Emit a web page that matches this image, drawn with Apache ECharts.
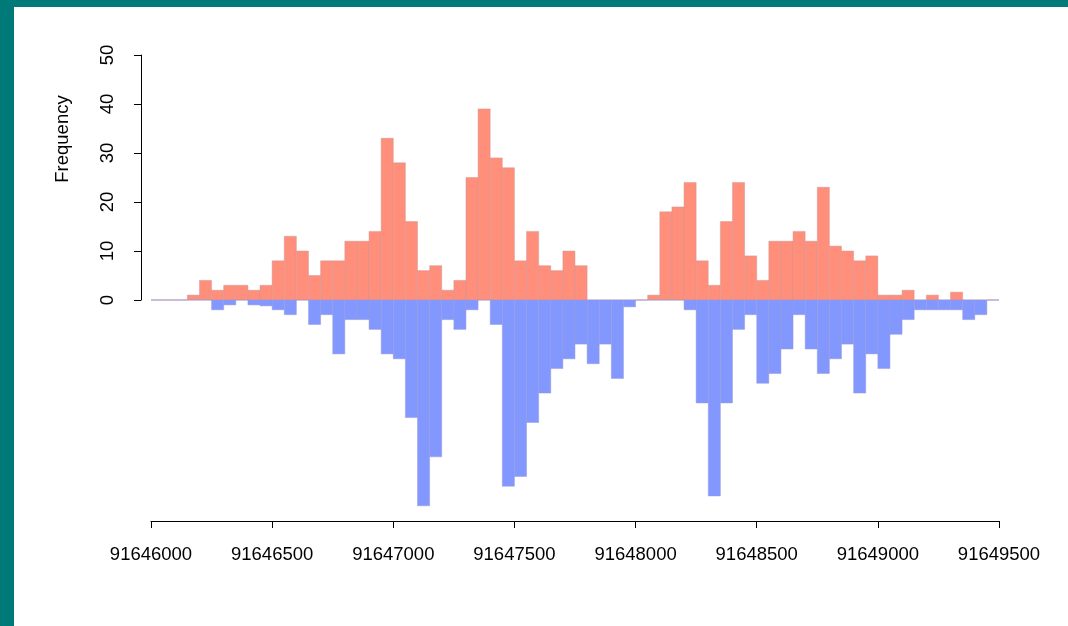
<!DOCTYPE html>
<html>
<head>
<meta charset="utf-8">
<script src="https://cdn.jsdelivr.net/npm/echarts@6/dist/echarts.min.js"></script>
<style>
  html, body { margin: 0; padding: 0; background: #ffffff; }
  #chart { width: 1068px; height: 626px; }
</style>
</head>
<body>
<div id="chart"></div>
<script>
// Left edge of each 50 bp bin
const binStart = [
  91646000, 91646050, 91646100, 91646150, 91646200, 91646250, 91646300, 91646350, 91646400, 91646450,
  91646500, 91646550, 91646600, 91646650, 91646700, 91646750, 91646800, 91646850, 91646900, 91646950,
  91647000, 91647050, 91647100, 91647150, 91647200, 91647250, 91647300, 91647350, 91647400, 91647450,
  91647500, 91647550, 91647600, 91647650, 91647700, 91647750, 91647800, 91647850, 91647900, 91647950,
  91648000, 91648050, 91648100, 91648150, 91648200, 91648250, 91648300, 91648350, 91648400, 91648450,
  91648500, 91648550, 91648600, 91648650, 91648700, 91648750, 91648800, 91648850, 91648900, 91648950,
  91649000, 91649050, 91649100, 91649150, 91649200, 91649250, 91649300, 91649350, 91649400, 91649450
];
const binWidth = 50;

// Upper histogram (counts, drawn upward)
const upperCounts = [
  0, 0, 0, 1, 4, 2, 3, 3, 2, 3,
  8, 13, 10, 5, 8, 8, 12, 12, 14, 33,
  28, 16, 6, 7, 2, 4, 25, 39, 29, 27,
  8, 14, 7, 6, 10, 7, 0, 0, 0, 0,
  0, 1, 18, 19, 24, 8, 3, 16, 24, 9,
  4, 12, 12, 14, 12, 23, 11, 10, 8, 9,
  1, 1, 2, 0, 1, 0, 1.6, 0, 0, 0
];

// Lower histogram (mirrored, drawn downward)
const lowerCounts = [
  0, 0, 0, 0, 0, -2, -1, 0, -1, -1.2,
  -2, -3, 0, -5, -3, -11, -4, -4, -6, -11,
  -12, -24, -42, -32, -4, -6, -2, 0, -5, -38,
  -36, -25, -19, -14, -12, -9, -13, -9, -16, -1.4,
  0, 0, 0, 0, -2, -21, -40, -21, -6, -3,
  -17, -15, -10, -3, -10, -15, -12, -9, -19, -11,
  -14, -7, -4, -2, -2, -2, -2, -4, -3, 0
];

// Axis ticks
const xTicks = [91646000, 91646500, 91647000, 91647500, 91648000, 91648500, 91649000, 91649500];
const yTicks = [0, 10, 20, 30, 40, 50];

const FONT = '"Liberation Sans", Arial, Helvetica, sans-serif';
const upperColor = '#FF8E7B';
const lowerColor = '#8398FF';

function barRenderer(fill, stroke) {
  return function (params, api) {
    const x0 = api.value(0);
    const v = api.value(1);
    const a = api.coord([x0, 0]);
    const b = api.coord([x0 + binWidth, v]);
    return {
      type: 'rect',
      shape: {
        x: a[0],
        y: Math.min(a[1], b[1]),
        width: b[0] - a[0],
        height: Math.abs(b[1] - a[1])
      },
      style: { fill: fill, stroke: stroke, lineWidth: 1 }
    };
  };
}

const chart = echarts.init(document.getElementById('chart'), null, { renderer: 'canvas' });

const xMin = xTicks[0], xMax = xTicks[xTicks.length - 1];

chart.setOption({
  backgroundColor: '#ffffff',
  animation: false,
  grid: [
    { left: 151, right: 69, top: 55, height: 245 },
    { left: 151, right: 69, top: 300, height: 221 }
  ],
  xAxis: [
    { gridIndex: 0, type: 'value', min: xMin, max: xMax, show: false },
    {
      gridIndex: 1, type: 'value', min: xMin, max: xMax, interval: 500, position: 'bottom',
      axisLine: { show: true, onZero: false, lineStyle: { color: '#000', width: 1 } },
      axisTick: { show: true, length: 7, inside: false, lineStyle: { color: '#000' } },
      axisLabel: { show: true, margin: 24, fontSize: 18.5, color: '#000', fontFamily: FONT,
                   showMinLabel: true, showMaxLabel: true,
                   formatter: v => String(v) },
      splitLine: { show: false }
    }
  ],
  yAxis: [
    {
      gridIndex: 0, type: 'value', min: yTicks[0], max: yTicks[yTicks.length - 1], interval: 10,
      offset: 10,
      axisLine: { show: true, lineStyle: { color: '#000', width: 1 } },
      axisTick: { show: true, length: 7, inside: false, lineStyle: { color: '#000' } },
      axisLabel: { show: true, rotate: 90, margin: 24, fontSize: 18.5, color: '#000', fontFamily: FONT },
      splitLine: { show: false }
    },
    { gridIndex: 1, type: 'value', min: -45.1, max: 0, show: false }
  ],
  graphic: [
    { type: 'rect', shape: { x: 0, y: 0, width: 1068, height: 7 }, style: { fill: '#007A78' }, z: 10 },
    { type: 'rect', shape: { x: 0, y: 0, width: 14, height: 626 }, style: { fill: '#007A78' }, z: 10 },
    {
      type: 'text', x: 63, y: 139, rotation: Math.PI / 2,
      style: { text: 'Frequency', fontSize: 18.5, fontFamily: FONT, fill: '#000',
               align: 'center', verticalAlign: 'middle' }
    }
  ],
  series: [
    {
      type: 'custom', xAxisIndex: 0, yAxisIndex: 0,
      renderItem: barRenderer(upperColor, 'rgba(205,150,150,0.45)'),
      data: binStart.map((x, i) => [x, upperCounts[i]])
    },
    {
      type: 'custom', xAxisIndex: 1, yAxisIndex: 1,
      renderItem: barRenderer(lowerColor, 'rgba(150,150,215,0.45)'),
      data: binStart.map((x, i) => [x, lowerCounts[i]])
    }
  ]
});
</script>
</body>
</html>
